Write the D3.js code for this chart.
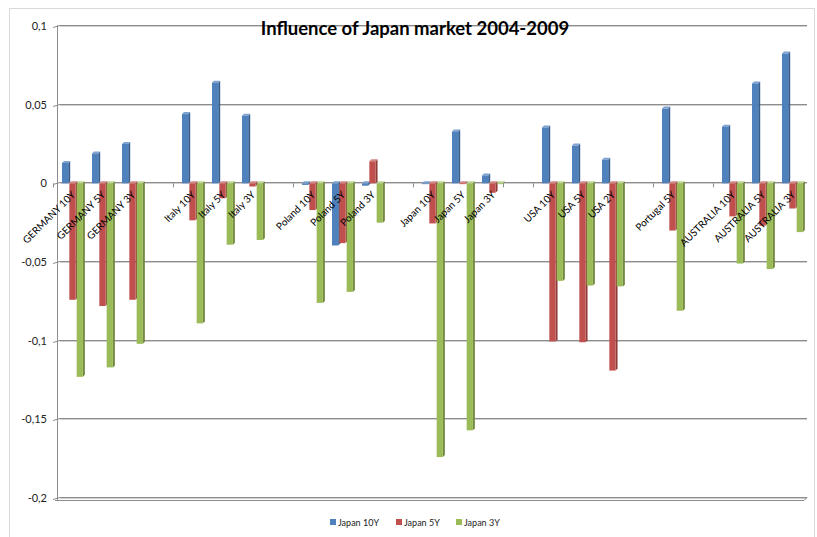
<!DOCTYPE html>
<html><head><meta charset="utf-8">
<script src="https://cdn.jsdelivr.net/npm/d3@7"></script>
<style>body{margin:0;background:#fff}svg{display:block}text{font-family:Lato,"Open Sans",sans-serif}</style>
</head><body>
<script>
const categories = ["GERMANY 10Y","GERMANY 5Y","GERMANY 3Y","",
  "Italy 10Y","Italy 5Y","Italy 3Y","",
  "Poland 10Y","Poland 5Y","Poland 3Y","",
  "Japan 10Y","Japan 5Y","Japan 3Y","",
  "USA 10Y","USA 5Y","USA 2Y","",
  "Portugal 5Y","",
  "AUSTRALIA 10Y","AUSTRALIA 5Y","AUSTRALIA 3Y"];
const seriesNames = ["Japan 10Y","Japan 5Y","Japan 3Y"];
const japan10Y = [0.013,0.019,0.025,null, 0.044,0.064,0.043,null, -0.001,-0.0395,-0.0015,null, -0.0005,0.033,0.005,null, 0.0355,0.024,0.015,null, 0.0475,null, 0.036,0.0635,0.0825];
const japan5Y  = [-0.074,-0.078,-0.074,null, -0.0235,-0.0095,-0.002,null, -0.017,-0.038,0.014,null, -0.0255,-0.0005,-0.006,null, -0.1005,-0.101,-0.119,null, -0.030,null, -0.021,-0.027,-0.016];
const japan3Y  = [-0.123,-0.117,-0.102,null, -0.089,-0.039,-0.036,null, -0.076,-0.069,-0.025,null, -0.174,-0.157,-0.0005,null, -0.062,-0.065,-0.0655,null, -0.081,null, -0.051,-0.0545,-0.031];
const yTicks = [0.1,0.05,0,-0.05,-0.1,-0.15,-0.2];
const title = "Influence of Japan market 2004-2009";
const colors = ["#4F81BD","#C0504D","#9BBB59"];
const sideColors = ["#375E8C","#8E3A38","#73893F"];
const topColors = ["#7FA3D1","#D68684","#BCD48E"];

const W=817,H=537;
const svg=d3.select("body").append("svg").attr("width",W).attr("height",H);
svg.append("rect").attr("x",9.5).attr("y",8.5).attr("width",805).attr("height",540).attr("fill","#fff").attr("stroke","#d9d9d9");

const x0=57,x1=807;
const y=d3.scaleLinear().domain([-0.2,0.1]).range([497,25]);
const x=d3.scaleBand().domain(d3.range(categories.length)).range([x0,x1]).padding(0);
const xs=d3.scaleBand().domain(d3.range(3)).range([5,27]);

// gridlines
const g=svg.append("g");
yTicks.forEach(t=>{
  const yy=Math.round(y(t))+0.5;
  g.append("line").attr("x1",x0+3).attr("x2",x1).attr("y1",yy+1).attr("y2",yy+1).attr("stroke","#d0d0d0");
  g.append("line").attr("x1",x0+3).attr("x2",x1).attr("y1",yy).attr("y2",yy).attr("stroke","#8c8c8c");
  g.append("line").attr("x1",x0-4).attr("x2",x0+3).attr("y1",yy+2).attr("y2",yy).attr("stroke","#8c8c8c");
  g.append("text").attr("x",47).attr("y",yy+4).attr("text-anchor","end").attr("font-size",11).attr("fill","#222")
    .text(d3.format(".2~f")(t).replace(".",",").replace("−","-"));
});
// floor
g.append("line").attr("x1",x0-2).attr("x2",x1-3).attr("y1",y(-0.2)+3.5).attr("y2",y(-0.2)+3.5).attr("stroke","#8c8c8c");
g.append("line").attr("x1",x1-3).attr("x2",x1).attr("y1",y(-0.2)+3.5).attr("y2",y(-0.2)+0.5).attr("stroke","#8c8c8c");
// y axis
g.append("line").attr("x1",x0+0.5).attr("x2",x0+0.5).attr("y1",y(0.1)).attr("y2",y(-0.2)+3).attr("stroke","#8c8c8c");
// category ticks
d3.range(categories.length+1).forEach(i=>{
  const xx=Math.round(x0+i*x.step())-3.5;
  g.append("line").attr("x1",xx).attr("x2",xx).attr("y1",y(0)+1).attr("y2",y(0)+5).attr("stroke","#8c8c8c");
});

// bars
const series=[japan10Y,japan5Y,japan3Y];
const bw=6.2,d=2;
const bars=svg.append("g");
categories.forEach((c,i)=>{
  series.forEach((s,k)=>{
    const v=s[i]; if(v==null) return;
    const bx=x(i)+xs(k);
    const top=Math.min(y(v),y(0))+1, bot=Math.max(y(v),y(0))+1;
    bars.append("polygon").attr("points",[[bx+bw,top],[bx+bw+d,top-d],[bx+bw+d,bot-d],[bx+bw,bot]].join(" ")).attr("fill",sideColors[k]);
    bars.append("polygon").attr("points",[[bx,top],[bx+d,top-d],[bx+bw+d,top-d],[bx+bw,top]].join(" ")).attr("fill",topColors[k]);
    bars.append("rect").attr("x",bx).attr("y",top).attr("width",bw).attr("height",Math.max(0.8,bot-top)).attr("fill",colors[k]);
  });
});

// category labels
const lab=svg.append("g");
categories.forEach((c,i)=>{
  if(!c) return;
  const cx=x(i)+x.bandwidth()/2-1, cy=y(0)+8;
  lab.append("text").attr("transform",`translate(${cx},${cy}) rotate(-45)`).attr("text-anchor","end")
    .attr("dy","0.7em").attr("font-size",10).attr("fill","#000").text(c);
});

// title
svg.append("text").attr("x",415).attr("y",35).attr("text-anchor","middle").attr("font-size",18.5).attr("font-weight","bold").attr("fill","#000").text(title);

// legend
const legX=[330,396,456];
seriesNames.forEach((n,k)=>{
  svg.append("rect").attr("x",legX[k]).attr("y",519).attr("width",6).attr("height",6).attr("fill",colors[k]);
  svg.append("text").attr("x",legX[k]+8).attr("y",525.5).attr("font-size",9).attr("fill","#222").text(n);
});
</script>
</body></html>
